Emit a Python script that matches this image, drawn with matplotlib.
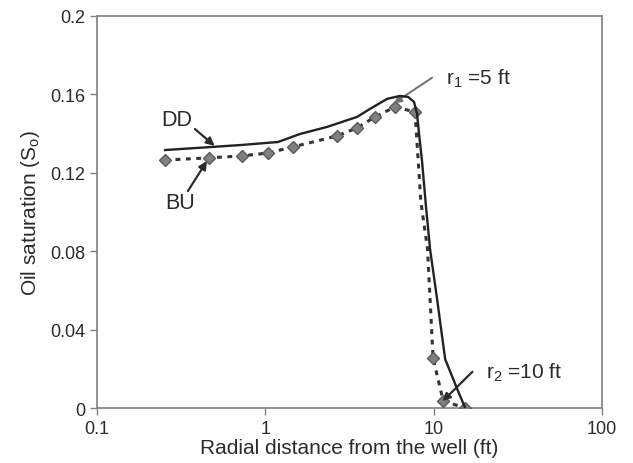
"""Oil saturation vs radial distance from the well: drawdown (DD) vs build-up (BU)."""

import matplotlib

matplotlib.use("Agg")
import matplotlib.pyplot as plt

# drawdown profile (solid line)
dd_x = [0.254, 0.489, 0.727, 1.19, 1.61, 2.33, 3.51, 4.19, 5.29, 6.31, 7.05,
        7.65, 7.97, 8.19, 8.53, 9.0, 9.52, 10.48, 11.7, 13.8, 15.4]
dd_y = [0.1316, 0.1332, 0.1342, 0.1357, 0.1398, 0.1434, 0.1485, 0.1526, 0.1577,
        0.1592, 0.1587, 0.1561, 0.150, 0.1398, 0.126, 0.103, 0.0811, 0.0556,
        0.025, 0.0097, 0.0]

# build-up dashed curve and its sample points (diamonds)
bu_curve_x = [0.254, 0.463, 0.727, 1.04, 1.46, 2.67, 3.51, 4.48, 5.90, 7.75,
              8.4, 9.2, 9.92, 11.4, 15.4]
bu_curve_y = [0.1265, 0.1276, 0.1286, 0.1301, 0.1332, 0.1388, 0.1429, 0.1485,
              0.1536, 0.151, 0.105, 0.081, 0.0255, 0.0036, 0.0]
bu_x = [0.254, 0.463, 0.727, 1.04, 1.46, 2.67, 3.51, 4.48, 5.90, 7.75, 9.92,
        11.4, 15.4]
bu_y = [0.1265, 0.1276, 0.1286, 0.1301, 0.1332, 0.1388, 0.1429, 0.1485, 0.1536,
        0.151, 0.0255, 0.0036, 0.0]

x_ticks = [0.1, 1, 10, 100]
x_tick_labels = ["0.1", "1", "10", "100"]
y_ticks = [0, 0.04, 0.08, 0.12, 0.16, 0.2]
y_tick_labels = ["0", "0.04", "0.08", "0.12", "0.16", "0.2"]

plt.rcParams["font.family"] = ["Liberation Sans", "DejaVu Sans"]
plt.rcParams["mathtext.fontset"] = "custom"
plt.rcParams["mathtext.rm"] = "Liberation Sans"
plt.rcParams["mathtext.it"] = "Liberation Sans"

text_color = "#2b2b2b"
spine_color = "#808080"

fig = plt.figure(figsize=(6.33, 4.64), dpi=100)
ax = fig.add_axes([0.1532, 0.1185, 0.7978, 0.845])

ax.plot(bu_curve_x, bu_curve_y, color="#333333", linewidth=2.2,
        linestyle=(0, (1.6, 1.8)), zorder=2)
ax.plot(bu_x, bu_y, linestyle="none", marker="D", markersize=6,
        markerfacecolor="#808080", markeredgecolor="#5a5a5a", zorder=3)
ax.plot(dd_x, dd_y, color="#222222", linewidth=1.7, zorder=4)

ax.set_xscale("log")
ax.set_xlim(0.1, 100)
ax.set_ylim(0, 0.2)
ax.set_xticks(x_ticks, x_tick_labels)
ax.set_yticks(y_ticks, y_tick_labels)
ax.minorticks_off()
ax.tick_params(direction="out", length=5, width=1, color=spine_color,
               labelsize=13, labelcolor=text_color)
for spine in ax.spines.values():
    spine.set_color(spine_color)
    spine.set_linewidth(1.2)

ax.set_xlabel("Radial distance from the well (ft)", fontsize=15,
              color=text_color, labelpad=1)
ax.set_ylabel("Oil saturation (S$_\\mathrm{o}$)", fontsize=15,
              color=text_color, labelpad=6)

arrow_dark = dict(arrowstyle="-|>", color="#2b2b2b", lw=1.6,
                  shrinkA=0, shrinkB=0, mutation_scale=12)

ax.text(0.299, 0.1474, "DD", fontsize=15.5, color=text_color,
        ha="center", va="center")
ax.annotate("", xy=(0.50, 0.1337), xytext=(0.382, 0.1423),
            arrowprops=arrow_dark)
ax.text(0.311, 0.1046, "BU", fontsize=15.5, color=text_color,
        ha="center", va="center")
ax.annotate("", xy=(0.45, 0.126), xytext=(0.347, 0.1107),
            arrowprops=arrow_dark)

ax.annotate("", xy=(5.8, 0.1555), xytext=(9.8, 0.1685),
            arrowprops=dict(arrowstyle="-|>", color="#707070", lw=1.4,
                            shrinkA=0, shrinkB=0, mutation_scale=11))
ax.text(11.8, 0.1685, "r$_{1}$ =5 ft", fontsize=15, color=text_color,
        va="center", ha="left")
ax.annotate("", xy=(11.3, 0.0035), xytext=(17.0, 0.0185),
            arrowprops=dict(arrowstyle="-|>", color="#2b2b2b", lw=1.6,
                            shrinkA=0, shrinkB=0, mutation_scale=11))
ax.text(20.5, 0.0185, "r$_{2}$ =10 ft", fontsize=15, color=text_color,
        va="center", ha="left")

fig.savefig("out.png", dpi=100, facecolor="white")
